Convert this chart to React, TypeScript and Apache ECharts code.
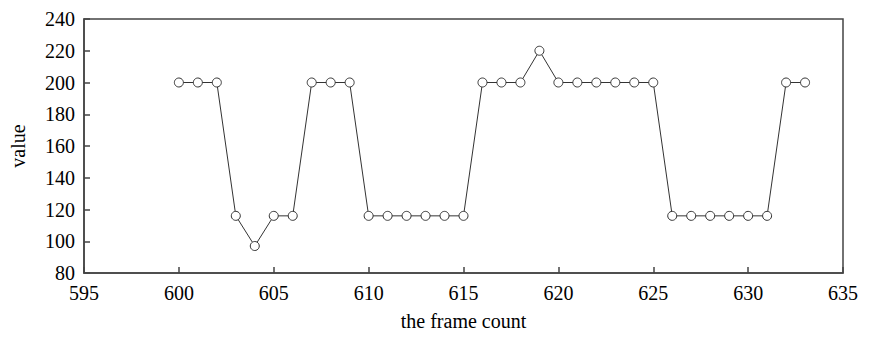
import React, { useEffect, useRef } from "react";
import * as echarts from "echarts";

const frames = [600, 601, 602, 603, 604, 605, 606, 607, 608, 609, 610, 611, 612, 613, 614, 615, 616, 617, 618, 619, 620, 621, 622, 623, 624, 625, 626, 627, 628, 629, 630, 631, 632, 633];
const values = [200, 200, 200, 116, 97, 116, 116, 200, 200, 200, 116, 116, 116, 116, 116, 116, 200, 200, 200, 220, 200, 200, 200, 200, 200, 200, 116, 116, 116, 116, 116, 116, 200, 200];

const xName = "the frame count";
const yName = "value";

const FONT = "Liberation Serif";

const axisTheme = {
  axisLine: { show: true, lineStyle: { color: "#444", width: 1.5 } },
  axisTick: { show: true, inside: true, length: 6, lineStyle: { color: "#444", width: 1.5 } },
  axisLabel: { show: true, color: "#000", fontFamily: FONT, fontSize: 20 },
  splitLine: { show: false },
};
const theme = {
  textStyle: { fontFamily: FONT, fontSize: 20 },
  valueAxis: axisTheme,
  categoryAxis: axisTheme,
};

export default function App() {
  const ref = useRef<HTMLDivElement>(null);
  useEffect(() => {
    if (!ref.current) return;
    const chart = echarts.init(ref.current, theme as any, { renderer: "svg" });
    chart.setOption({
      animation: false,
      backgroundColor: "#fff",
      grid: { left: 81, top: 19, right: 29, bottom: 67, show: true, borderColor: "#444", borderWidth: 1.5, backgroundColor: "transparent" },
      xAxis: [{
        type: "value",
        min: 595,
        max: 635,
        interval: 5,
        name: xName,
        nameLocation: "middle",
        nameGap: 38,
        nameTextStyle: { color: "#000", fontFamily: FONT, fontSize: 20 },
        axisLine: { show: true, lineStyle: { color: "#444", width: 1.5 } },
        axisTick: { show: true, inside: true, length: 6, lineStyle: { color: "#444", width: 1.5 } },
        axisLabel: { show: true, color: "#000", fontFamily: FONT, fontSize: 20, margin: 10 },
        splitLine: { show: false },
      }],
      yAxis: [{
        type: "value",
        min: 80,
        max: 240,
        interval: 20,
        name: yName,
        nameLocation: "middle",
        nameGap: 56,
        nameTextStyle: { color: "#000", fontFamily: FONT, fontSize: 20 },
        axisLine: { show: true, lineStyle: { color: "#444", width: 1.5 } },
        axisTick: { show: true, inside: true, length: 6, lineStyle: { color: "#444", width: 1.5 } },
        axisLabel: { show: true, color: "#000", fontFamily: FONT, fontSize: 20, margin: 9 },
        splitLine: { show: false },
      }],
      series: [
        {
          type: "line",
          data: frames.map((f, i) => [f, values[i]]),
          symbol: "circle",
          symbolSize: 9,
          showAllSymbol: true,
          lineStyle: { color: "#333", width: 1 },
          itemStyle: { color: "#fff", borderColor: "#333", borderWidth: 1 },
        },
      ],
    });
    return () => chart.dispose();
  }, []);
  return <div ref={ref} style={{ width: 872, height: 340, position: "absolute", left: 0, top: 0 }} />;
}
